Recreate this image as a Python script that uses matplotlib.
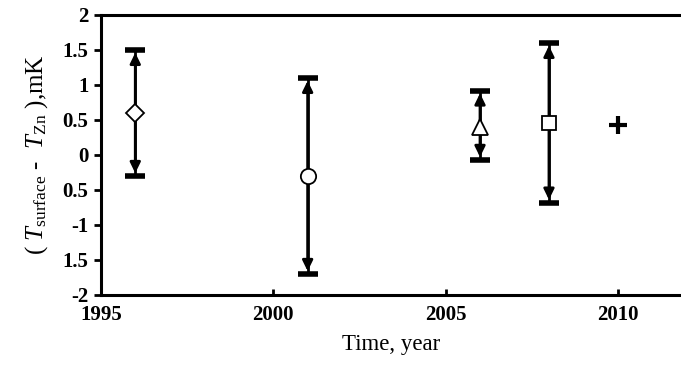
import matplotlib
matplotlib.use("Agg")
import matplotlib.pyplot as plt

plt.rcParams['font.family'] = ['Liberation Serif', 'DejaVu Serif']
plt.rcParams['mathtext.fontset'] = 'custom'
plt.rcParams['mathtext.rm'] = 'Liberation Serif'
plt.rcParams['mathtext.it'] = 'Liberation Serif:italic'

# data
years = [1996, 2001, 2006, 2008]
values = [0.6, -0.3, 0.4, 0.45]
upper = [1.5, 1.1, 0.92, 1.6]
lower = [-0.3, -1.7, -0.07, -0.68]
markers = ['D', 'o', '^', 's']
msizes = [9, 11, 12, 10]
plus_year = [2010]
plus_value = [0.43]

yticks = [2, 1.5, 1, 0.5, 0, -0.5, -1, -1.5, -2]
ytick_labels = ["2", "1.5", "1", "0.5", "0", "0.5", "-1", "1.5", "-2"]
xticks = [1995, 2000, 2005, 2010]

fig = plt.figure(figsize=(6.81, 3.65), dpi=100)
ax = fig.add_axes([0.148, 0.192, 0.852, 0.767])

for x, y, hi, lo, m, s in zip(years, values, upper, lower, markers, msizes):
    ax.errorbar([x], [y], yerr=[[y - lo], [hi - y]], fmt='none', ecolor='black',
                elinewidth=2, capsize=7, capthick=4, zorder=2)
    for end in (hi, lo):
        ax.annotate("", xy=(x, end), xytext=(x, y),
                    arrowprops=dict(arrowstyle='-|>,head_width=0.22,head_length=0.45',
                                    lw=2, color='black',
                                    mutation_scale=14, shrinkA=0, shrinkB=2),
                    zorder=3)
    ax.plot([x], [y], marker=m, ms=s, mfc='white', mec='black', mew=1.3,
            ls='none', zorder=4)

ax.plot(plus_year, plus_value, marker='+', ms=13, mew=3, color='black', ls='none')

ax.set_xlim(1995, 2011.83)
ax.set_ylim(-2, 2)
ax.set_xticks(xticks)
ax.set_yticks(yticks)
ax.set_yticklabels(ytick_labels)
for lab in ax.get_xticklabels() + ax.get_yticklabels():
    lab.set_fontweight('bold')
    lab.set_fontsize(15)

ax.tick_params(axis='y', direction='out', length=5, width=2, pad=4)
ax.tick_params(axis='x', direction='in', length=4, width=2, pad=7)
ax.spines['right'].set_visible(False)
for sp in ['left', 'bottom', 'top']:
    ax.spines[sp].set_linewidth(2.2)

ax.set_xlabel("Time, year", fontsize=16.5, labelpad=7)
ax.set_ylabel(r"( $\mathit{T}_{\rm surface}$ -  $\mathit{T}_{\rm Zn}$ ),mK",
              fontsize=18, labelpad=9)

fig.savefig("out.png", dpi=100)
